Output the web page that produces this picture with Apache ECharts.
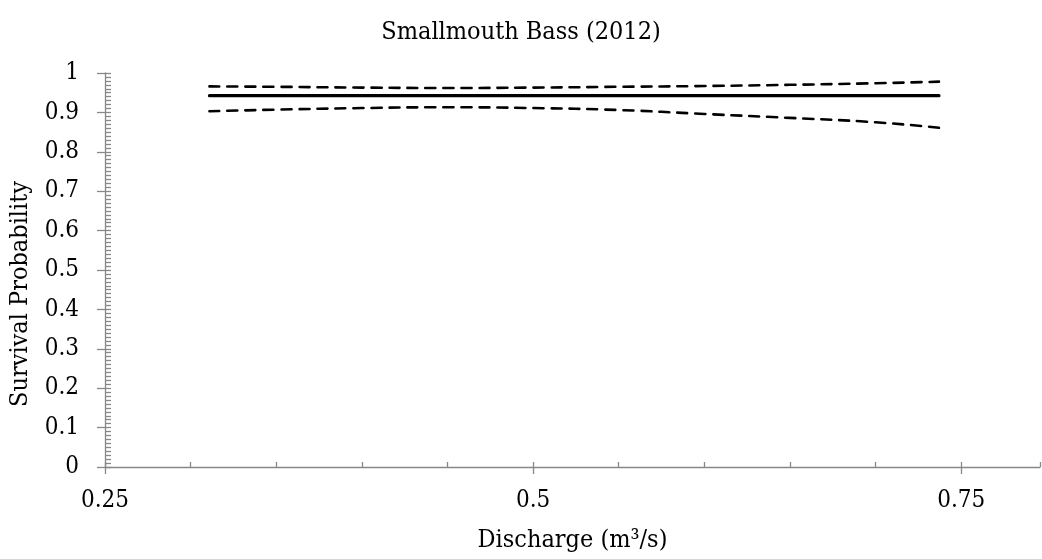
<!DOCTYPE html>
<html>
<head>
<meta charset="utf-8">
<script src="https://cdn.jsdelivr.net/npm/echarts@6/dist/echarts.min.js"></script>
<style>html,body{margin:0;padding:0;background:#fff;}#c{width:1042px;height:559px;}</style>
</head>
<body>
<div id="c"></div>
<script>
const titleText = 'Smallmouth Bass (2012)';
const xName = 'Discharge (m³/s)';
const yName = 'Survival Probability';
const discharge = [0.311, 0.35, 0.40, 0.45, 0.50, 0.55, 0.60, 0.65, 0.70, 0.737];
const survival  = [0.9425, 0.9425, 0.9425, 0.9425, 0.9425, 0.9425, 0.9425, 0.9425, 0.9425, 0.9425];
const upperCI   = [0.966, 0.965, 0.963, 0.962, 0.963, 0.965, 0.967, 0.970, 0.974, 0.978];
const lowerCI   = [0.903, 0.907, 0.911, 0.913, 0.911, 0.906, 0.896, 0.886, 0.875, 0.861];
const xMin = 0.25, xMax = 0.796, xMajor = 0.25, xMinor = 0.05;
const yMin = 0, yMax = 1, yMajor = 0.1, yMinor = 0.01;

const font = '"DejaVu Serif Condensed", "DejaVu Serif", serif';
const axisColor = '#888888';
const pairs = a => discharge.map((x, i) => [x, a[i]]);

const chart = echarts.init(document.getElementById('c'), null, {renderer: 'canvas'});
chart.setOption({
  animation: false,
  backgroundColor: '#ffffff',
  title: {
    text: titleText, left: 'center', top: 15,
    textStyle: {fontFamily: font, fontSize: 25, fontWeight: 'normal', color: '#000'}
  },
  grid: {left: 103, right: 2, top: 73, bottom: 92, containLabel: false},
  xAxis: [
    {
      type: 'value', min: xMin, max: xMax, interval: xMajor, position: 'bottom',
      name: xName, nameLocation: 'middle', nameGap: 61,
      nameTextStyle: {fontFamily: font, fontSize: 25, color: '#000'},
      axisLine: {show: true, onZero: false, lineStyle: {color: axisColor, width: 1.3}},
      axisTick: {show: true, inside: false, length: 7, lineStyle: {color: axisColor, width: 1.3}},
      axisLabel: {fontFamily: font, fontSize: 24, color: '#000', margin: 22, showMaxLabel: false,
        formatter: v => String(+v.toFixed(2))},
      splitLine: {show: false}
    },
    {
      type: 'value', min: xMin, max: xMax, interval: xMinor, position: 'bottom',
      axisLine: {show: false, onZero: false},
      axisTick: {show: true, inside: true, length: 5, lineStyle: {color: axisColor, width: 1.3}},
      axisLabel: {show: false},
      splitLine: {show: false}
    }
  ],
  yAxis: [
    {
      type: 'value', min: yMin, max: yMax, interval: yMajor, position: 'left',
      name: yName, nameLocation: 'middle', nameGap: 72,
      nameTextStyle: {fontFamily: font, fontSize: 25, color: '#000', padding: [0, 48, 0, 0]},
      axisLine: {show: true, onZero: false, lineStyle: {color: axisColor, width: 1.3}},
      axisTick: {show: true, inside: false, length: 8, lineStyle: {color: axisColor, width: 1.3}},
      axisLabel: {fontFamily: font, fontSize: 24, color: '#000', margin: 26,
        formatter: v => String(+v.toFixed(1))},
      splitLine: {show: false}
    },
    {
      type: 'value', min: yMin, max: yMax, interval: yMinor, position: 'left',
      axisLine: {show: false, onZero: false},
      axisTick: {show: true, inside: true, length: 6, lineStyle: {color: axisColor, width: 1.3}},
      axisLabel: {show: false},
      splitLine: {show: false}
    }
  ],
  series: [
    {
      type: 'line', data: pairs(survival), xAxisIndex: 0, yAxisIndex: 0,
      showSymbol: false, smooth: true,
      lineStyle: {color: '#000', width: 3.2, cap: 'round'}
    },
    {
      type: 'line', data: pairs(upperCI), xAxisIndex: 0, yAxisIndex: 0,
      showSymbol: false, smooth: true,
      lineStyle: {color: '#000', width: 2.6, type: [10, 8], cap: 'round'}
    },
    {
      type: 'line', data: pairs(lowerCI), xAxisIndex: 0, yAxisIndex: 0,
      showSymbol: false, smooth: true,
      lineStyle: {color: '#000', width: 2.6, type: [10, 8], cap: 'round'}
    }
  ]
});
</script>
</body>
</html>
